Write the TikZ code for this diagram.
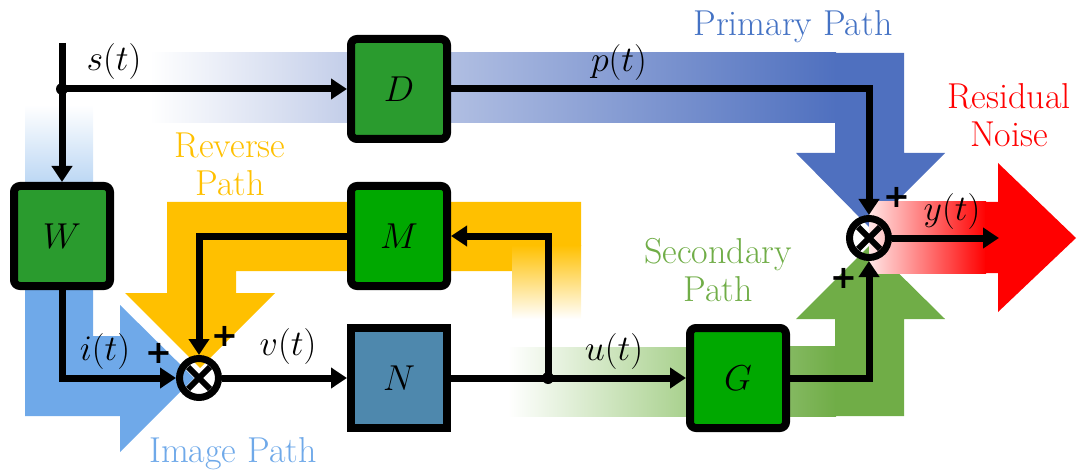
\RequirePackage{fix-cm}
\documentclass[tikz,border=0pt]{standalone}
\usepackage{fontspec}
\newfontfamily\plusfont{DejaVu Sans}
\usetikzlibrary{arrows.meta}
\definecolor{dgreen}{HTML}{2A9B2E}
\definecolor{bgreen}{HTML}{00A800}
\definecolor{nblue}{HTML}{4E88AD}
\definecolor{pblue}{HTML}{4F70BF}
\definecolor{pbluel}{HTML}{B0BEE2}
\definecolor{iblue}{HTML}{6FA9E9}
\definecolor{ibluel}{HTML}{BCD7F4}
\definecolor{ryel}{HTML}{FFC000}
\definecolor{sgreen}{HTML}{70AD47}
\definecolor{sgreenl}{HTML}{A9D18E}
\definecolor{ptext}{HTML}{4472C4}

\begin{document}
\begin{tikzpicture}[x=1pt, y=-1pt, font=\fontsize{36}{38}\selectfont,
    box/.style={draw, line width=8pt, rounded corners=6pt, minimum width=96pt,
      minimum height=100pt, inner sep=0pt},
    sum/.style={draw, circle, line width=7pt, minimum size=39pt, inner sep=0pt},
    wire/.style={line width=7pt, -{Triangle[length=16pt, width=20pt]}},
    plus/.style={font=\plusfont\bfseries\fontsize{32}{32}\selectfont, inner sep=0pt},
    pathlab/.style={align=center, inner sep=0pt}]
  \useasboundingbox (0,0) rectangle (1084,473);

  \shade[left color=white, right color=pbluel!75] (150,53) rectangle (347,123);
  \shade[left color=pbluel, right color=pblue] (451,53) rectangle (836,123);
  \fill[pblue] (835,53) -- (904,53) -- (904,153) -- (945,153) -- (870,228)
    -- (796,153) -- (835,153) -- cycle;

  \shade[top color=white, bottom color=ibluel] (25,105) rectangle (93,183);
  \fill[iblue] (25,289) -- (93,289) -- (93,336) -- (120,336) -- (120,305)
    -- (194,378) -- (120,452) -- (120,416) -- (25,416) -- cycle;

  \fill[ryel] (581,202) -- (167,202) -- (167,293) -- (125,293) -- (200,368)
    -- (275,293) -- (236,293) -- (236,271) -- (512,271) -- (512,246) -- (581,246)
    -- cycle;
  \shade[top color=ryel, middle color=ryel!55!white, bottom color=white]
    (512,245) rectangle (581,319);

  \shade[left color=white, right color=sgreenl] (508,347) rectangle (687,416);
  \shade[left color=sgreen!85!white, right color=sgreen] (786,346) rectangle (836,416);
  \fill[sgreen] (835,416) -- (904,416) -- (904,319) -- (945,319) -- (870,245)
    -- (796,319) -- (835,319) -- cycle;

  \shade[left color=red!10, right color=red] (869,202) rectangle (986,273);
  \fill[red] (985,202) -- (998,202) -- (998,163) -- (1076,238) -- (998,312)
    -- (998,273) -- (985,273) -- cycle;

  \foreach \n/\x/\y/\c in {D/399/89/dgreen, W/62/236/dgreen, M/399/236/bgreen,
      G/738/378/bgreen}
    \node[box, fill=\c] (\n) at (\x,\y) {$\n$};
  \node[box, sharp corners, fill=nblue] (N) at (399,378) {$N$};

  \node[sum] (sumL) at (199,378) {};
  \node[sum] (sumR) at (869,238) {};
  \foreach \s in {sumL, sumR}
    \draw[line width=6pt] (\s.center) ++(-11,-11) -- ++(22,22)
      (\s.center) ++(-11,11) -- ++(22,-22);

  \coordinate (sIn) at (62,43);
  \coordinate (jS) at (62,89);
  \coordinate (jU) at (548,378);
  \coordinate (yOut) at (999,238);

  \draw[wire] (sIn) -- (W.north);
  \draw[wire] (jS) -- (D.west);
  \draw[wire] (D.east) -| (sumR.north);
  \draw[wire] (W.south) |- (sumL.west);
  \draw[wire] (M.west) -| (sumL.north);
  \draw[wire] (sumL.east) -- (N.west);
  \draw[wire] (N.east) -- (G.west);
  \draw[wire] (jU) |- (M.east);
  \draw[wire] (G.east) -| (sumR.south);
  \draw[wire] (sumR.east) -- (yOut);
  \fill (jS) circle[radius=6pt];
  \fill (jU) circle[radius=6pt];

  \foreach \t/\x/\y in {s/114/62, p/619/63, i/105/351, v/288/346, u/614/351, y/952/212}
    \node (lab\t) at (\x,\y) {$\t(t)$};
  \foreach \x/\y [count=\k] in {159/353, 225/336, 897/197, 844/278}
    \node[plus] (plus\k) at (\x,\y) {+};

  \node[pathlab, text=ptext] (primary) at (793,27) {Primary Path};
  \node[pathlab, text=red] (residual) at (1009,115) {Residual\\Noise};
  \node[pathlab, text=ryel] (reverse) at (230,164) {Reverse\\Path};
  \node[pathlab, text=sgreen] (secondary) at (718,270) {Secondary\\Path};
  \node[pathlab, text=iblue] (image) at (233,454) {Image Path};
\end{tikzpicture}
\end{document}
